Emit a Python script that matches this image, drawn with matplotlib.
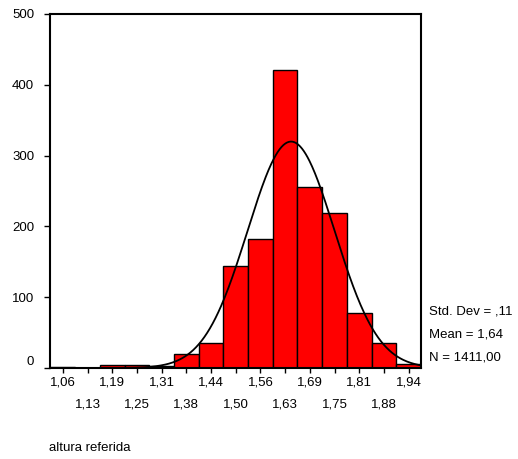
import matplotlib.pyplot as plt
import numpy as np

plt.rcParams['font.family'] = ['Liberation Sans', 'DejaVu Sans']

# bin centres (width 0.0625) and counts
BIN_WIDTH = 0.0625
BIN_CENTERS = [1.0625, 1.125, 1.1875, 1.25, 1.3125, 1.375, 1.4375, 1.5,
               1.5625, 1.625, 1.6875, 1.75, 1.8125, 1.875, 1.9375]
COUNTS = [1, 0, 4, 4, 3, 20, 35, 144, 182, 421, 255, 219, 77, 35, 5]
TICK_LABELS = ['1,06', '1,13', '1,19', '1,25', '1,31', '1,38', '1,44', '1,50',
               '1,56', '1,63', '1,69', '1,75', '1,81', '1,88', '1,94']

# summary statistics shown on the chart
MEAN = 1.64
STD_DEV = 0.11
N = 1411


def main() -> None:
    fig = plt.figure(figsize=(5.18, 4.59), dpi=100)
    ax = fig.add_axes([50 / 518, 1 - 368 / 459, 371 / 518, 354 / 459])

    ax.bar(BIN_CENTERS, COUNTS, width=BIN_WIDTH, color='#FF0000',
           edgecolor='black', linewidth=1.0, zorder=2)

    # fitted normal curve
    xs = np.linspace(1.03, BIN_CENTERS[-1] + BIN_WIDTH / 2, 400)
    ys = N * BIN_WIDTH / (STD_DEV * np.sqrt(2 * np.pi)) * np.exp(-0.5 * ((xs - MEAN) / STD_DEV) ** 2)
    ax.plot(xs, ys, color='black', linewidth=1.3, zorder=3)

    ax.set_xlim(1.03, BIN_CENTERS[-1] + BIN_WIDTH / 2)
    ax.set_ylim(0, 500)
    ax.set_yticks([0, 100, 200, 300, 400, 500])

    # alternate labels on two rows: major ticks on top row, minor on bottom row
    ax.set_xticks(BIN_CENTERS[0::2])
    ax.set_xticklabels(TICK_LABELS[0::2])
    ax.set_xticks(BIN_CENTERS[1::2], minor=True)
    ax.set_xticklabels(TICK_LABELS[1::2], minor=True)

    ax.tick_params(axis='x', which='major', direction='out', length=3.4, width=1.0, pad=3, labelsize=9.5)
    ax.tick_params(axis='x', which='minor', direction='out', length=3.4, width=1.0, pad=18.5, labelsize=9.5)
    ax.tick_params(axis='y', direction='out', length=4.3, width=1.0, pad=7, labelsize=9.5)
    # the "0" label sits slightly above the axis line
    ax.get_yticklabels()[0].set_verticalalignment('bottom')

    for spine in ax.spines.values():
        spine.set_linewidth(1.5)

    stats = ['Std. Dev = ,11', 'Mean = 1,64', 'N = 1411,00']
    for i, s in enumerate(stats):
        fig.text(429 / 518, 1 - (312 + 22.5 * i) / 459, s, fontsize=9.5,
                 ha='left', va='center')

    fig.text(49 / 518, 1 - 448 / 459, 'altura referida', fontsize=9.5,
             ha='left', va='center')

    fig.savefig('out.png', dpi=100)


if __name__ == '__main__':
    main()
